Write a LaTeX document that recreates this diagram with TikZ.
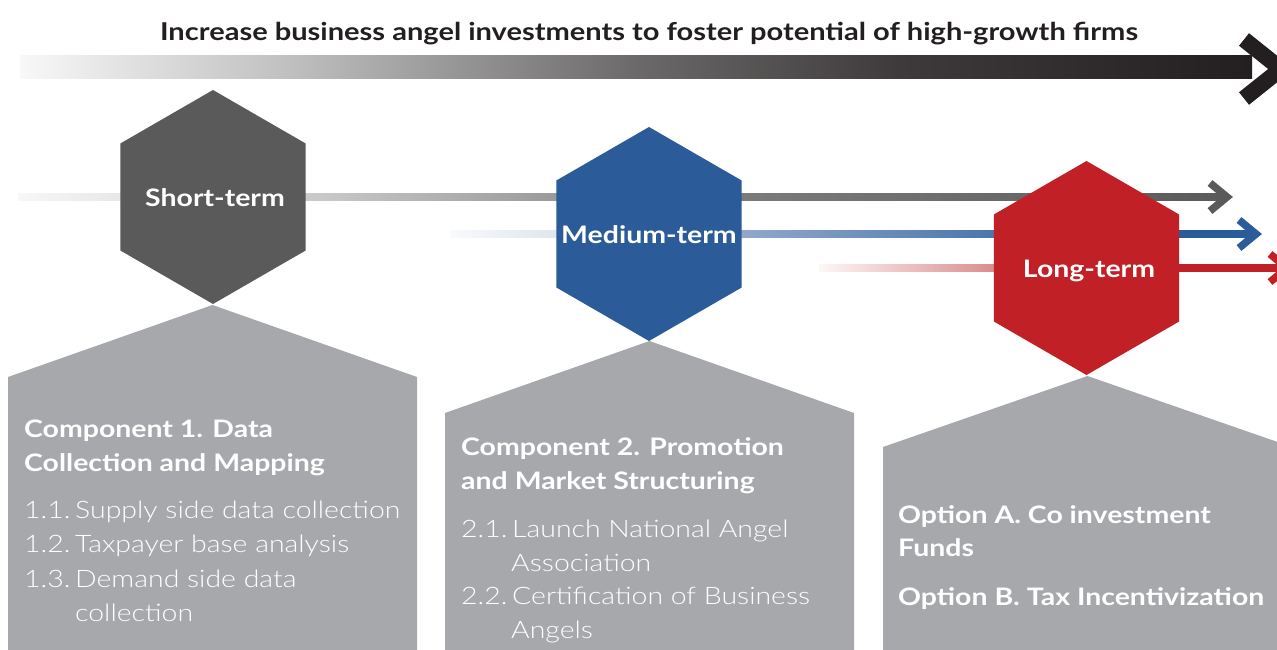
\documentclass[tikz,border=0pt]{standalone}
\usepackage{fontspec}
\setmainfont{Lato}[FakeStretch=1.18]
\newfontfamily\lightfont{Lato Light}[FakeStretch=1.18]
\usetikzlibrary{shapes.geometric}
\definecolor{hexgray}{HTML}{5A5A5A}
\definecolor{hexblue}{HTML}{2B5B99}
\definecolor{hexred}{HTML}{C02026}
\definecolor{boxgray}{HTML}{A6A8AB}
\definecolor{barblack}{HTML}{231F20}
\definecolor{bsA}{HTML}{F8F8F8}
\definecolor{bsB}{HTML}{BDBDBD}
\definecolor{bsC}{HTML}{6A6868}
\definecolor{bsD}{HTML}{3E3A3B}
\definecolor{gsA}{HTML}{F7F7F7}
\definecolor{gsB}{HTML}{CCCCCC}
\definecolor{gsC}{HTML}{9A9A9A}
\definecolor{gsD}{HTML}{7B7B7B}
\definecolor{blA}{HTML}{F8FAFC}
\definecolor{blB}{HTML}{DFE6F0}
\definecolor{blC}{HTML}{90A9CB}
\definecolor{blD}{HTML}{4D76AD}
\definecolor{rdA}{HTML}{FDF7F7}
\definecolor{rdB}{HTML}{DB8E91}
\pgfdeclarehorizontalshading{barshade}{100bp}{color(0bp)=(bsA); color(25bp)=(bsA); color(36.4bp)=(bsB); color(50.2bp)=(bsC); color(60.7bp)=(bsD); color(75bp)=(barblack); color(100bp)=(barblack)}
\pgfdeclarehorizontalshading{grayshade}{100bp}{color(0bp)=(gsA); color(25bp)=(gsA); color(36.7bp)=(gsB); color(47.3bp)=(gsC); color(55bp)=(gsD); color(75bp)=(hexgray); color(100bp)=(hexgray)}
\pgfdeclarehorizontalshading{blueshade}{100bp}{color(0bp)=(blA); color(25bp)=(blA); color(31.5bp)=(blB); color(43.1bp)=(blC); color(58.7bp)=(blD); color(70bp)=(hexblue); color(100bp)=(hexblue)}
\pgfdeclarehorizontalshading{redshade}{100bp}{color(0bp)=(rdA); color(25bp)=(rdA); color(43.5bp)=(rdB); color(63.3bp)=(hexred); color(100bp)=(hexred)}
\tikzset{
  hexa/.style={regular polygon, regular polygon sides=6, shape border rotate=30, minimum size=214pt, inner sep=0pt, outer sep=0pt, draw=none},
  hexlabel/.style={font=\bfseries\fontsize{24.1}{28}\selectfont, text=white, inner sep=0pt, anchor=base},
  titletext/.style={font=\bfseries\fontsize{24.6}{28}\selectfont, text=barblack, inner sep=0pt, anchor=base},
  headtext/.style={font=\bfseries\fontsize{24.1}{28}\selectfont, text=white, inner sep=0pt, anchor=base west},
  itemtext/.style={font=\lightfont\fontsize{24.1}{28}\selectfont, text=white, inner sep=0pt, anchor=base west},
  chevron/.style={line width=7.5pt, miter limit=10},
}
\newcommand{\numlab}[1]{\makebox[51pt][l]{#1}}
\begin{document}
\begin{tikzpicture}[x=1pt,y=-1pt]
\useasboundingbox (0,0) rectangle (1277,650);
\clip (0,0) rectangle (1277,650);
\fill[white] (0,0) rectangle (1277,650);

% title and main bar
\node[titletext] (title) at (649,41) {Increase business angel investments to foster potential of high-growth firms};
\coordinate (barL) at (20,67.5);
\coordinate (barR) at (1252,67.5);
\coordinate (barTip) at (1281,69);
\shade[shading=barshade] ([yshift=11.5pt]barL) rectangle ([yshift=-11.5pt]barR);
\draw[barblack, line width=16pt, miter limit=10] ([shift={(-37,-29.5)}]barTip) -- (barTip) -- ([shift={(-37,29.5)}]barTip);

% timeline lines
\coordinate (g0) at (18,197);
\coordinate (g1) at (1227,197);
\coordinate (b0) at (450,234);
\coordinate (b1) at (1256,234);
\coordinate (r0) at (819,268);
\coordinate (r1) at (1287,268);
\shade[shading=grayshade] ([yshift=3.75pt]g0) rectangle ([yshift=-3.75pt,xshift=-3pt]g1);
\draw[hexgray, chevron] ([shift={(-17,-14)}]g1) -- (g1) -- ([shift={(-17,14)}]g1);
\shade[shading=blueshade] ([yshift=3.75pt]b0) rectangle ([yshift=-3.75pt,xshift=-3pt]b1);
\draw[hexblue, chevron] ([shift={(-17,-14)}]b1) -- (b1) -- ([shift={(-17,14)}]b1);
\shade[shading=redshade] ([yshift=3.75pt]r0) rectangle ([yshift=-3.75pt,xshift=-3pt]r1);
\draw[hexred, chevron] ([shift={(-17,-14)}]r1) -- (r1) -- ([shift={(-17,14)}]r1);

% component boxes
\fill[boxgray] (8,377) -- (212.5,305) -- (417,377) -- (417,660) -- (8,660) -- cycle;
\fill[boxgray] (445,413) -- (649.5,341) -- (854,413) -- (854,660) -- (445,660) -- cycle;
\fill[boxgray] (883,447) -- (1087.5,376) -- (1292,447) -- (1292,660) -- (883,660) -- cycle;

% hexagons
\node[hexa, fill=hexgray] (st) at (213,197) {};
\node[hexa, fill=hexblue] (mt) at (649,234) {};
\node[hexa, fill=hexred] (lt) at (1086.5,268) {};
\node[hexlabel] (stl) at (215,206) {Short-term};
\node[hexlabel] (mtl) at (649,243) {Medium-term};
\node[hexlabel] (ltl) at (1089,277) {Long-term};

% box 1
\node[headtext] (c1a) at (24,437) {Component 1. Data};
\node[headtext] (c1b) at (24,471) {Collection and Mapping};
\node[itemtext] (i11) at (24,518) {\numlab{1.1.}Supply side data collection};
\node[itemtext] (i12) at (24,552.5) {\numlab{1.2.}Taxpayer base analysis};
\node[itemtext] (i13) at (24,587) {\numlab{1.3.}Demand side data};
\node[itemtext] (i13b) at (75,621) {collection};

% box 2
\node[headtext] (c2a) at (461,455) {Component 2. Promotion};
\node[headtext] (c2b) at (461,489) {and Market Structuring};
\node[itemtext] (i21) at (461,537) {\numlab{2.1.}Launch National Angel};
\node[itemtext] (i21b) at (511,571) {Association};
\node[itemtext] (i22) at (461,604) {\numlab{2.2.}Certification of Business};
\node[itemtext] (i22b) at (511,638) {Angels};

% box 3
\node[headtext] (oa) at (898,523) {Option A. Co investment};
\node[headtext] (oab) at (898,556) {Funds};
\node[headtext] (ob) at (898,605) {Option B. Tax Incentivization};
\end{tikzpicture}
\end{document}
